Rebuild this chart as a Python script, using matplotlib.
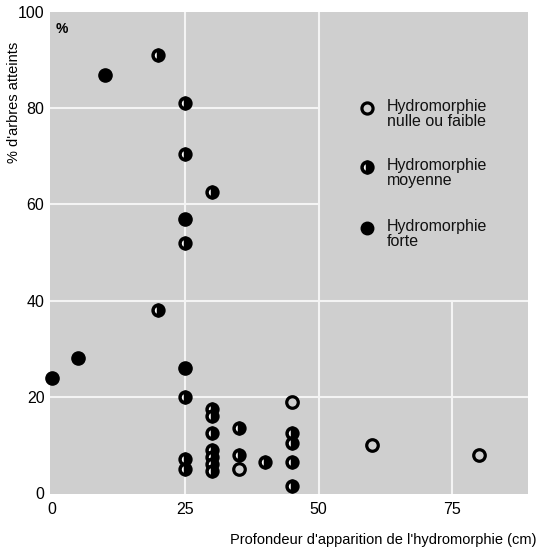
import matplotlib
matplotlib.use('Agg')
import matplotlib.pyplot as plt

plt.rcParams['font.family'] = ['Liberation Sans', 'DejaVu Sans']

# profondeur (cm) / % d'arbres atteints
x_nulle = [45, 35, 60, 80]
y_nulle = [19, 5, 10, 8]

x_moyenne = [20, 25, 25, 30, 25, 20, 25, 30, 30, 30, 35, 45, 45,
             30, 30, 30, 30, 25, 25, 35, 40, 45, 45]
y_moyenne = [91, 81, 70.5, 62.5, 52, 38, 20, 17.5, 16, 12.5, 13.5, 12.5, 10.5,
             9, 7.5, 6, 4.5, 7, 5, 8, 6.5, 6.5, 1.5]

x_forte = [10, 25, 0, 5, 25]
y_forte = [87, 57, 24, 28, 26]

legend_labels = ['Hydromorphie\nnulle ou faible', 'Hydromorphie\nmoyenne', 'Hydromorphie\nforte']
x_ticks = [0, 25, 50, 75]
y_ticks = [0, 20, 40, 60, 80, 100]

bg = '#cfcfcf'
grid_c = '#f4f4f4'

fig = plt.figure(figsize=(5.39, 5.48), dpi=100)
ax = fig.add_axes([50 / 539, 1 - 494 / 548, (528 - 50) / 539, (494 - 12) / 548])
ax.set_facecolor(bg)
for s in ax.spines.values():
    s.set_visible(False)

ax.set_xlim(-0.3, 89.2)
ax.set_ylim(-0.2, 100)

# irregular white grid of the printed figure
ax.vlines([25, 50], -0.2, 100, color=grid_c, lw=1.5, zorder=1)
ax.vlines([75], -0.2, 40, color=grid_c, lw=1.5, zorder=1)
ax.hlines([80, 60], -0.3, 50, color=grid_c, lw=1.5, zorder=1)
ax.hlines([40, 20], -0.3, 89.2, color=grid_c, lw=1.5, zorder=1)

half_kw = dict(marker='o', fillstyle='right', mfc='black', mfcalt='white',
               mec='black', mew=2.5, ls='none', zorder=3)
open_kw = dict(marker='o', mfc='none', mec='black', mew=2.3, ls='none', zorder=3)
full_kw = dict(marker='o', mfc='black', mec='black', mew=1, ls='none', zorder=3)

ax.plot(x_nulle, y_nulle, ms=8.3, clip_on=False, **open_kw)
ax.plot(x_moyenne, y_moyenne, ms=7.8, clip_on=False, **half_kw)
ax.plot(x_forte, y_forte, ms=9.5, clip_on=False, **full_kw)

# legend drawn inside the panel
leg_x = 59
leg_y = [80, 67.8, 55]
ax.plot([leg_x], [leg_y[0]], ms=8, **open_kw)
ax.plot([leg_x], [leg_y[1]], ms=7.8, **half_kw)
ax.plot([leg_x], [leg_y[2]], ms=9, **full_kw)
for yy, lab in zip(leg_y, legend_labels):
    ax.text(leg_x + 3.8, yy + 1.9, lab, fontsize=11.5, va='top', ha='left',
            linespacing=1.0, color='#111111')

ax.text(2.0, 96.5, '%', fontsize=10, fontweight='bold', ha='center', va='center')

ax.set_xticks(x_ticks)
ax.set_yticks(y_ticks)
ax.tick_params(length=0, labelsize=11.5, pad=6)
ax.tick_params(axis='y', pad=4)

fig.text(14 / 539, 1 - 102 / 548, "% d'arbres atteints", rotation=90,
         fontsize=10.5, ha='center', va='center')
fig.text(536 / 539, 1 - 540 / 548, "Profondeur d'apparition de l'hydromorphie (cm)",
         fontsize=10.5, ha='right', va='center')

fig.savefig('out.png', dpi=100, facecolor='white')
